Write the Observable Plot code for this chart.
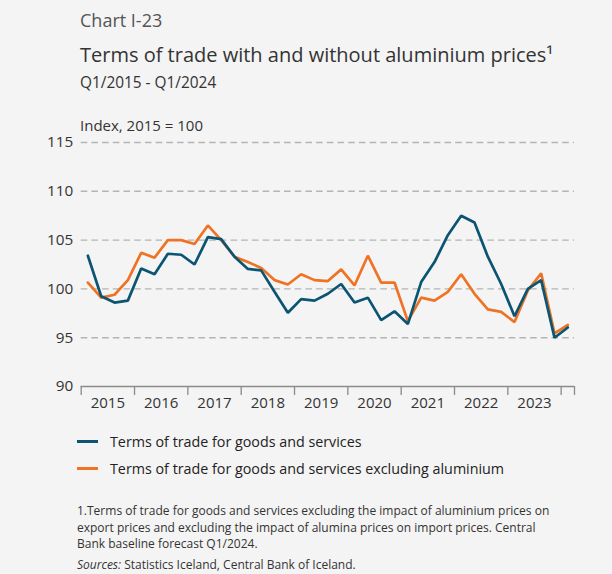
<!DOCTYPE html>
<html>
<head>
<meta charset="utf-8">
<script src="https://cdn.jsdelivr.net/npm/d3@7"></script>
<script src="https://cdn.jsdelivr.net/npm/@observablehq/plot@0.6"></script>
<style>
  html, body { margin: 0; padding: 0; }
  #wrap { position: relative; width: 612px; height: 574px; background: #f4f4f4; font-family: "Open Sans", sans-serif; color: #333; overflow: hidden; }
  .t { position: absolute; white-space: nowrap; line-height: 1.2; }
  #chart { position: absolute; left: 0; top: 120px; }
  .leg { position: absolute; left: 77px; display: flex; align-items: center; font-size: 14.3px; color: #222; }
  .sw { width: 21px; height: 3px; margin-right: 12px; }
  #foot { position: absolute; left: 77px; top: 503px; font-size: 12px; line-height: 16.7px; color: #333; white-space: nowrap; }
  #src { position: absolute; left: 77px; top: 557px; font-size: 12px; line-height: 16.7px; color: #333; white-space: nowrap; }
</style>
</head>
<body>
<div id="wrap">
  <div class="t" style="left:80px;top:10px;font-size:18px;color:#555;">Chart I-23</div>
  <div class="t" style="left:80px;top:43px;font-size:20px;color:#333;">Terms of trade with and without aluminium prices¹</div>
  <div class="t" style="left:80px;top:74px;font-size:15.4px;color:#333;">Q1/2015 - Q1/2024</div>
  <div class="t" style="left:80px;top:115.5px;font-size:15px;color:#333;">Index, 2015 = 100</div>
  <div id="chart"></div>
  <div class="leg" style="top:432px;"><div class="sw" style="background:#0b5472"></div><span id="l1"></span></div>
  <div class="leg" style="top:459px;"><div class="sw" style="background:#ef7324"></div><span id="l2"></span></div>
  <div id="foot">1.Terms of trade for goods and services excluding the impact of aluminium prices on<br>export prices and excluding the impact of alumina prices on import prices. Central<br>Bank baseline forecast Q1/2024.</div>
  <div id="src"><i>Sources:</i> Statistics Iceland, Central Bank of Iceland.</div>
</div>
<script>
const quarters = [
  "Q1 2015","Q2 2015","Q3 2015","Q4 2015",
  "Q1 2016","Q2 2016","Q3 2016","Q4 2016",
  "Q1 2017","Q2 2017","Q3 2017","Q4 2017",
  "Q1 2018","Q2 2018","Q3 2018","Q4 2018",
  "Q1 2019","Q2 2019","Q3 2019","Q4 2019",
  "Q1 2020","Q2 2020","Q3 2020","Q4 2020",
  "Q1 2021","Q2 2021","Q3 2021","Q4 2021",
  "Q1 2022","Q2 2022","Q3 2022","Q4 2022",
  "Q1 2023","Q2 2023","Q3 2023","Q4 2023",
  "Q1 2024"
];
const totGoodsServices = [103.4, 99.25, 98.6, 98.8, 102.1, 101.5, 103.6, 103.5, 102.5, 105.3, 105.1, 103.3, 102.05, 101.9, 99.7, 97.55, 98.95, 98.8, 99.5, 100.5, 98.6, 99.1, 96.8, 97.7, 96.4, 100.7, 102.75, 105.5, 107.5, 106.8, 103.3, 100.5, 97.2, 100.0, 100.9, 95.0, 96.05];
const totExAluminium = [100.65, 99.1, 99.4, 100.9, 103.7, 103.2, 105.0, 105.0, 104.6, 106.5, 105.0, 103.3, 102.75, 102.15, 100.9, 100.45, 101.5, 100.9, 100.8, 102.0, 100.35, 103.4, 100.65, 100.65, 96.7, 99.1, 98.8, 99.7, 101.5, 99.5, 97.9, 97.65, 96.6, 99.85, 101.6, 95.45, 96.3];
const seriesNames = ["Terms of trade for goods and services", "Terms of trade for goods and services excluding aluminium"];
const seriesColors = ["#0b5472", "#ef7324"];
const yearLabels = ["2015","2016","2017","2018","2019","2020","2021","2022","2023"];
const yTicks = [90, 95, 100, 105, 110, 115];

// quarter label -> fractional year at centre of the quarter
const qTime = q => { const [qq, yy] = q.split(" "); return +yy + (+qq.slice(1) - 1) / 4 + 0.125; };

const rows = [];
quarters.forEach((q, i) => {
  rows.push({t: qTime(q), v: totGoodsServices[i], s: seriesNames[0]});
  rows.push({t: qTime(q), v: totExAluminium[i], s: seriesNames[1]});
});

const yearBounds = yearLabels.map(y => +y).concat([+yearLabels[yearLabels.length - 1] + 1, qTime(quarters[quarters.length - 1]) + 0.125]);
const yearCentres = yearLabels.map(y => +y + 0.5);

document.getElementById("l1").textContent = seriesNames[0];
document.getElementById("l2").textContent = seriesNames[1];

const chart = Plot.plot({
  width: 612,
  height: 296,
  marginTop: 22,
  marginBottom: 30,
  marginLeft: 80.7,
  marginRight: 38,
  style: {background: "transparent", fontFamily: "Open Sans, sans-serif", fontSize: "15px", color: "#333", overflow: "visible"},
  x: {domain: [yearBounds[0], yearBounds[yearBounds.length - 1]], axis: null},
  y: {domain: [90, 115], axis: null},
  color: {domain: seriesNames, range: seriesColors},
  marks: [
    Plot.ruleY(yTicks.filter(v => v > 90), {stroke: "#b4b4b4", strokeWidth: 1.4, strokeDasharray: "6.6,4.1"}),
    Plot.axisY(yTicks, {tickSize: 0, tickPadding: 8, label: null, fontSize: 15.3, fill: "#333"}),
    Plot.ruleY([90], {stroke: "#8a8a8a", strokeWidth: 1.3}),
    Plot.axisX(yearBounds, {tickSize: 9, tickFormat: () => "", stroke: "#8a8a8a", strokeWidth: 1.3, label: null}),
    Plot.axisX(yearCentres, {tickSize: 0, tickPadding: 11, tickFormat: d => String(Math.floor(d)), label: null, fontSize: 15, fill: "#333"}),
    Plot.line(rows.filter(d => d.s === seriesNames[1]), {x: "t", y: "v", stroke: "s", strokeWidth: 2.7, strokeLinejoin: "miter"}),
    Plot.line(rows.filter(d => d.s === seriesNames[0]), {x: "t", y: "v", stroke: "s", strokeWidth: 2.7, strokeLinejoin: "miter"})
  ]
});
document.getElementById("chart").appendChild(chart);
</script>
</body>
</html>
